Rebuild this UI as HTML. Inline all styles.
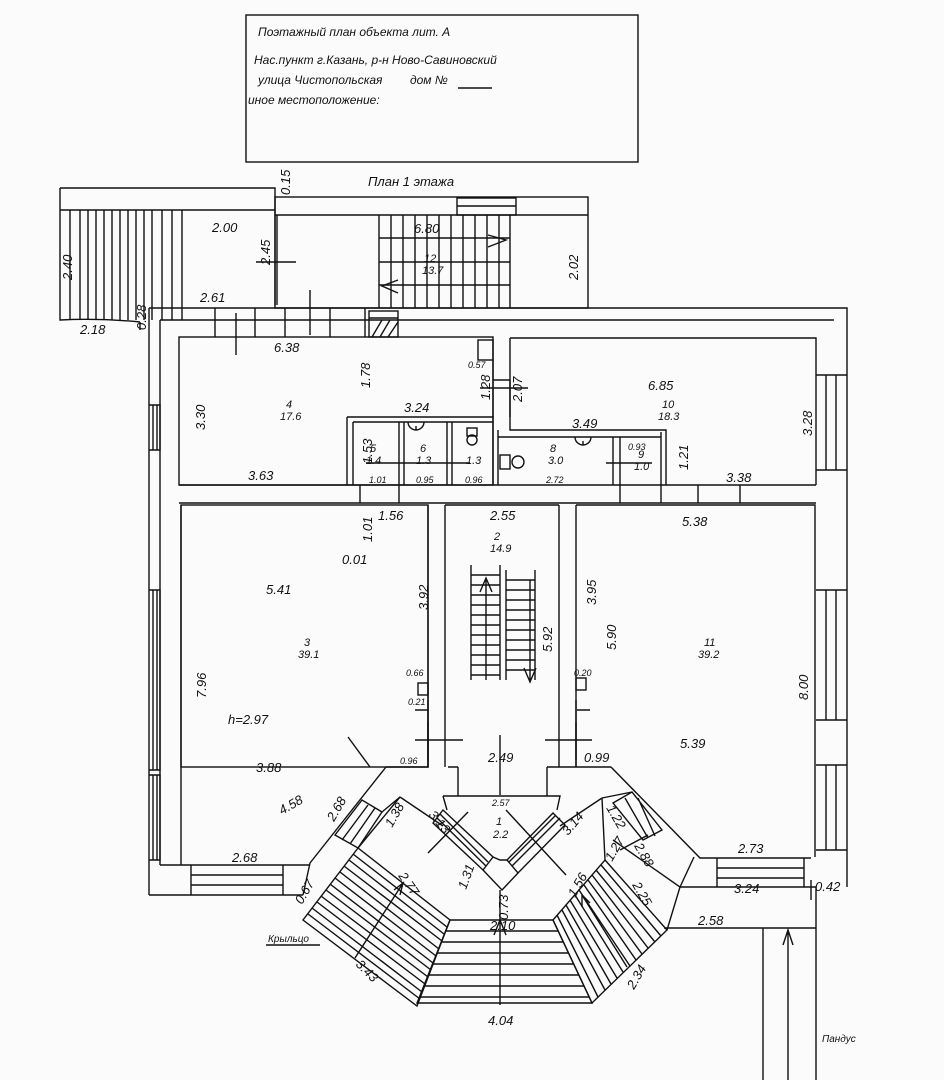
<!DOCTYPE html>
<html><head><meta charset="utf-8"><style>
html,body{margin:0;padding:0;background:#fff;}
svg{display:block;}
text{font-family:"Liberation Sans","Noto Sans CJK SC",sans-serif;font-style:italic;fill:#111;}
</style></head><body>
<svg width="944" height="1080" viewBox="0 0 944 1080" xmlns="http://www.w3.org/2000/svg">
<rect width="944" height="1080" fill="#fbfbfb"/>
<g stroke="#111" stroke-width="1.4" fill="none">
<!-- title box -->
<rect x="246" y="15" width="392" height="147"/>
<line x1="458" y1="88" x2="492" y2="88"/>
<!-- left annex -->
<path d="M60,188 L275,188 L275,305 M60,210 L275,210 M60,188 L60,320 Q100,318 140,322 M140,322 L140,330"/>
<path d="M70,210 V320 M80,210 V320 M88,210 V320 M96,210 V320 M104,210 V320 M112,210 V320 M120,210 V320 M128,210 V320 M136,210 V320 M144,210 V320 M152,210 V320 M162,210 V320 M172,210 V320 M182,210 V320"/>
<line x1="236" y1="313" x2="236" y2="355"/>
<line x1="256" y1="262" x2="296" y2="262"/>
<!-- right annex -->
<rect x="275" y="197" width="313" height="111"/>
<line x1="275" y1="215" x2="588" y2="215"/>
<rect x="457" y="198" width="59" height="17"/>
<line x1="457" y1="206" x2="516" y2="206"/>
<line x1="277" y1="215" x2="277" y2="305"/>
<path d="M379,215 V308 M510,215 V308 M379,262 H510 M379,238 H510 M379,285 H510"/>
<path d="M391,215 V308 M403,215 V308 M415,215 V308 M427,215 V308 M439,215 V308 M451,215 V308 M463,215 V308 M475,215 V308 M487,215 V308 M499,215 V308"/>
<path d="M488,235 L506,240 L488,247 M398,280 L382,286 L398,293"/>
<line x1="310" y1="290" x2="310" y2="335"/>
<!-- main building outer -->
<path d="M149,308 L847,308 L847,887 M149,308 L149,895"/>
<path d="M160,320 L834,320 M160,320 L160,865"/>
<path d="M215,308 V337 M255,308 V337 M285,308 V337 M330,308 V337 M365,308 V337"/>
<rect x="369" y="311" width="29" height="26"/>
<path d="M369,318 H398 M372,337 L382,320 M380,337 L390,320 M388,337 L398,322"/>
<!-- room 4 -->
<rect x="179" y="337" width="314" height="148"/>
<rect x="478" y="340" width="15" height="20"/>
<!-- room 10 -->
<path d="M510,338 V430 H666 V485 M510,338 H816 V485"/>
<path d="M493,360 V417 M510,380 V417 M493,380 H510"/>
<line x1="480" y1="388" x2="528" y2="388"/>
<!-- toilets -->
<path d="M347,417 H493 V485 M347,417 V485 M353,422 V485 M399,422 V485 M404,422 V485 M447,422 V485 M452,422 V485 M353,422 H493"/>
<path d="M498,430 V485 M613,437 V485 M620,437 V485 M661,432 V485 M498,437 H661"/>
<path d="M408,422 A8,8 0 0 0 424,422 M416,426 V430 M575,437 A8,8 0 0 0 591,437 M583,441 V445"/>
<circle cx="472" cy="440" r="5"/><rect x="467" y="428" width="10" height="8"/>
<rect x="500" y="455" width="10" height="14"/><circle cx="518" cy="462" r="6"/>
<line x1="366" y1="463" x2="470" y2="463"/><line x1="606" y1="463" x2="652" y2="463"/>
<!-- corridor / lower rooms -->
<path d="M179,485 H816 M179,503 H816"/>
<path d="M360,485 V503 M399,485 V503 M620,485 V503 M661,485 V503 M698,485 V503 M740,485 V503"/>
<rect x="181" y="505" width="247" height="262"/>
<path d="M181,505 V865"/>
<path d="M445,505 V767 M559,505 V767 M445,505 H559"/>
<path d="M576,505 V767 M576,505 H815 V857"/>
<path d="M386,767 H428 V505 M448,767 H458 M547,767 H577 M611,767 H577"/>
<path d="M428,700 V767 M415,710 H428 M576,700 V767 M577,710 H590"/>
<path d="M415,740 H463 M545,740 H592 M428,722 V760 M576,722 V760"/>
<rect x="418" y="683" width="10" height="12"/><rect x="576" y="678" width="10" height="12"/>
<!-- stair 2 -->
<path d="M471,565 V680 M500,565 V680 M506,570 V680 M535,570 V680"/>
<path d="M471,575 H500 M471,585 H500 M471,595 H500 M471,605 H500 M471,615 H500 M471,625 H500 M471,635 H500 M471,645 H500 M471,655 H500 M471,665 H500 M471,675 H500"/>
<path d="M506,580 H535 M506,590 H535 M506,600 H535 M506,610 H535 M506,620 H535 M506,630 H535 M506,640 H535 M506,650 H535 M506,660 H535 M506,670 H535"/>
<path d="M486,680 V580 M480,592 L486,578 L492,592 M530,580 V680 M524,668 L530,682 L536,668"/>
<line x1="500" y1="735" x2="500" y2="795"/>
<!-- windows left -->
<path d="M149,405 H160 V450 H149 M153,405 V450 M157,405 V450"/>
<path d="M149,590 H160 V770 H149 M153,590 V770 M157,590 V770"/>
<path d="M149,775 H160 V860 H149 M153,775 V860 M157,775 V860"/>
<!-- windows right -->
<path d="M816,375 H847 M816,470 H847 M826,375 V470 M836,375 V470"/>
<path d="M816,590 H847 M816,720 H847 M826,590 V720 M836,590 V720"/>
<path d="M816,765 H847 M816,850 H847 M826,765 V850 M836,765 V850"/>
<!-- bottom left -->
<path d="M149,895 H303 M160,865 H310 M191,865 V895 M283,865 V895 M191,875 H283 M191,885 H283"/>
<path d="M386,767 L310,863 L303,895"/>
<path d="M335,835 L362,800 L382,812 L358,848 Z M342,840 L368,805 M350,844 L375,808"/>
<!-- right side -->
<path d="M611,767 L700,858 H811 M680,887 H816 M717,858 V887 M804,858 V887 M717,868 H804 M717,878 H804"/>
<path d="M632,792 L662,830 L643,840 L613,803 Z M638,798 L655,836 M625,798 L648,838"/>
<path d="M613,840 L680,887 L667,930 M694,857 L680,887"/>
<path d="M664,928 H816 M763,928 V1080 M816,887 V1080 M788,1080 V930 M783,945 L788,930 L793,945"/>
<line x1="811" y1="880" x2="811" y2="900"/>
<!-- vestibule -->
<path d="M400,797 L358,848 M400,797 L382,812 M602,798 L632,792 M602,798 L605,860"/>
<path d="M443,796 H560 L557,810 M443,796 L447,810 M458,767 V796 M547,767 V796"/>
<path d="M400,797 L443,826 M602,798 L560,826"/>
<!-- inner flights -->
<path d="M443,810 L433,823 L483,870 L493,857 Z M440,814 L488,862 M437,818 L486,866"/>
<path d="M565,825 L553,813 L507,860 L518,873 Z M560,818 L512,866 M556,815 L509,862"/>
<path d="M483,870 L502,890 L518,873 M493,857 L500,860 L507,860"/>
<path d="M428,853 L468,812 M506,810 L566,875"/>
<!-- porch left wing -->
<path d="M358,848 L303,920 L417,1006 L450,920 Z"/>
<path d="M353,854 L447,927 M349,860 L444,934 M344,866 L442,941 M340,872 L439,949 M335,878 L436,956 M330,884 L433,963 M326,890 L431,970 M321,896 L428,977 M317,902 L425,984 M312,908 L422,992 M308,914 L420,999"/>
<path d="M355,958 L403,883 M394,890 L403,883 L400,895"/>
<!-- porch right wing -->
<path d="M605,860 L667,930 L592,1003 L553,920 Z"/>
<path d="M601,865 L661,936 M596,870 L655,942 M592,875 L648,948 M588,880 L642,954 M584,885 L636,960 M579,890 L630,966 M575,895 L623,972 M570,900 L617,978 M566,905 L611,984 M562,910 L605,990 M557,915 L598,997"/>
<path d="M627,967 L582,895 M582,907 L582,895 L590,903"/>
<path d="M620,850 L648,835"/>
<!-- porch center -->
<path d="M450,920 H553 L592,1003 H417 Z"/>
<path d="M446,931 H558 M442,942 H563 M437,953 H569 M433,964 H574 M429,975 H579 M425,986 H584 M421,997 H589"/>
<path d="M500,890 V1005 M494,935 L500,920 L506,935"/>
<line x1="266" y1="945" x2="320" y2="945"/>
<line x1="348" y1="737" x2="370" y2="767"/>
</g>
<g font-size="12">
<text x="258" y="36">Поэтажный план объекта лит. А</text>
<text x="254" y="64">Нас.пункт г.Казань, р-н Ново-Савиновский</text>
<text x="258" y="84">улица Чистопольская</text>
<text x="410" y="84">дом №</text>
<text x="248" y="104">иное местоположение:</text>
<text x="368" y="186" font-size="13">План 1 этажа</text>
</g>
<g font-size="13">
<text x="212" y="232">2.00</text>
<text x="414" y="233">6.80</text>
<text x="200" y="302">2.61</text>
<text x="274" y="352">6.38</text>
<text x="648" y="390">6.85</text>
<text x="404" y="412">3.24</text>
<text x="572" y="428">3.49</text>
<text x="248" y="480">3.63</text>
<text x="726" y="482">3.38</text>
<text x="378" y="520">1.56</text>
<text x="490" y="520">2.55</text>
<text x="682" y="526">5.38</text>
<text x="342" y="564">0.01</text>
<text x="266" y="594">5.41</text>
<text x="228" y="724">h=2.97</text>
<text x="256" y="772">3.88</text>
<text x="488" y="762">2.49</text>
<text x="584" y="762">0.99</text>
<text x="680" y="748">5.39</text>
<text x="232" y="862">2.68</text>
<text x="738" y="853">2.73</text>
<text x="734" y="893">3.24</text>
<text x="815" y="891">0.42</text>
<text x="698" y="925">2.58</text>
<text x="490" y="930">2.10</text>
<text x="488" y="1025">4.04</text>
</g>
<g font-size="11">
<text x="286" y="408">4</text><text x="280" y="420">17.6</text>
<text x="304" y="646">3</text><text x="298" y="658">39.1</text>
<text x="704" y="646">11</text><text x="698" y="658">39.2</text>
<text x="494" y="540">2</text><text x="490" y="552">14.9</text>
<text x="662" y="408">10</text><text x="658" y="420">18.3</text>
<text x="496" y="825">1</text><text x="493" y="838">2.2</text>
<text x="424" y="262">12</text><text x="422" y="274">13.7</text>
<text x="370" y="452">5</text><text x="366" y="464">1.4</text>
<text x="420" y="452">6</text><text x="416" y="464">1.3</text>
<text x="466" y="464">1.3</text>
<text x="550" y="452">8</text><text x="548" y="464">3.0</text>
<text x="638" y="458">9</text><text x="634" y="470">1.0</text>
<text x="369" y="483" font-size="9">1.01</text>
<text x="416" y="483" font-size="9">0.95</text>
<text x="465" y="483" font-size="9">0.96</text>
<text x="546" y="483" font-size="9">2.72</text>
<text x="628" y="450" font-size="9">0.93</text>
<text x="468" y="368" font-size="9">0.57</text>
<text x="400" y="764" font-size="9">0.96</text>
<text x="406" y="676" font-size="9">0.66</text>
<text x="408" y="705" font-size="9">0.21</text>
<text x="574" y="676" font-size="9">0.20</text>
<text x="492" y="806" font-size="9">2.57</text>
<text x="268" y="942" font-size="10">Крыльцо</text>
<text x="822" y="1042" font-size="10">Пандус</text>
</g>
<g font-size="13">
<text transform="translate(72,280) rotate(-90)">2.40</text>
<text transform="translate(270,265) rotate(-90)">2.45</text>
<text transform="translate(578,280) rotate(-90)">2.02</text>
<text transform="translate(205,430) rotate(-90)">3.30</text>
<text transform="translate(370,388) rotate(-90)">1.78</text>
<text transform="translate(490,400) rotate(-90)">1.28</text>
<text transform="translate(522,402) rotate(-90)">2.07</text>
<text transform="translate(372,464) rotate(-90)">1.53</text>
<text transform="translate(688,470) rotate(-90)">1.21</text>
<text transform="translate(812,436) rotate(-90)">3.28</text>
<text transform="translate(372,542) rotate(-90)">1.01</text>
<text transform="translate(428,610) rotate(-90)">3.92</text>
<text transform="translate(596,605) rotate(-90)">3.95</text>
<text transform="translate(552,652) rotate(-90)">5.92</text>
<text transform="translate(616,650) rotate(-90)">5.90</text>
<text transform="translate(206,698) rotate(-90)">7.96</text>
<text transform="translate(808,700) rotate(-90)">8.00</text>
<text transform="translate(290,195) rotate(-90)">0.15</text>
<text transform="translate(146,330) rotate(-90)">0.28</text>
<text x="80" y="334">2.18</text>
<text transform="translate(282,815) rotate(-30)">4.58</text>
<text transform="translate(334,822) rotate(-60)">2.68</text>
<text transform="translate(392,828) rotate(-60)">1.38</text>
<text transform="translate(428,815) rotate(50)">3.13</text>
<text transform="translate(568,836) rotate(-50)">3.14</text>
<text transform="translate(606,808) rotate(60)">1.22</text>
<text transform="translate(612,862) rotate(-60)">1.27</text>
<text transform="translate(634,846) rotate(60)">2.88</text>
<text transform="translate(466,890) rotate(-70)">1.31</text>
<text transform="translate(508,920) rotate(-90)">0.73</text>
<text transform="translate(575,898) rotate(-60)">1.56</text>
<text transform="translate(398,876) rotate(55)">2.77</text>
<text transform="translate(632,885) rotate(60)">2.25</text>
<text transform="translate(302,905) rotate(-60)">0.67</text>
<text transform="translate(355,965) rotate(45)">3.43</text>
<text transform="translate(634,990) rotate(-60)">2.34</text>
</g>
</svg>
</body></html>
